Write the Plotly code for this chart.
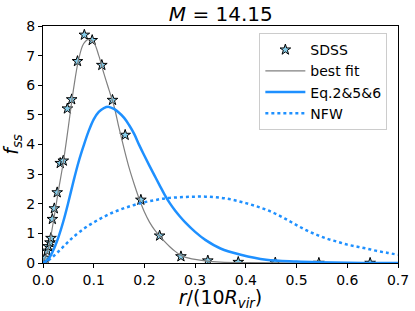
import plotly.graph_objects as go

# SDSS data points
sdss_r = [0.002, 0.004, 0.008, 0.0105, 0.0138, 0.0158, 0.0184, 0.0223, 0.028, 0.034, 0.040,
          0.048, 0.0566, 0.068, 0.0815, 0.097, 0.116, 0.137, 0.162, 0.193, 0.230, 0.272,
          0.325, 0.385, 0.458, 0.544, 0.645]
sdss_f = [0.05, 0.17, 0.41, 0.56, 0.69, 0.84, 1.48, 1.84, 2.38, 3.37, 3.45,
          5.21, 5.52, 6.81, 7.70, 7.52, 6.68, 5.50, 4.32, 2.13, 0.92, 0.22,
          0.08, 0.03, 0.01, 0.0, 0.0]

# best fit curve
fit_r = [0.0, 0.01, 0.02, 0.03, 0.04, 0.05, 0.06, 0.07, 0.08, 0.09, 0.10, 0.11, 0.12, 0.13,
         0.14, 0.15, 0.16, 0.17, 0.18, 0.19, 0.20, 0.21, 0.22, 0.23, 0.24, 0.25, 0.26, 0.27,
         0.28, 0.30, 0.32, 0.35, 0.40, 0.50, 0.60, 0.70]
fit_f = [0.0, 0.45, 1.35, 2.4, 3.4, 4.6, 5.85, 6.85, 7.4, 7.55, 7.45, 7.0, 6.4, 5.85,
         5.3, 4.55, 3.85, 3.2, 2.65, 2.15, 1.72, 1.38, 1.12, 0.92, 0.72, 0.55, 0.4, 0.28,
         0.2, 0.12, 0.07, 0.03, 0.01, 0.0, 0.0, 0.0]

# Eq.2&5&6 model
eq_r = [0.0, 0.01, 0.02, 0.03, 0.04, 0.05, 0.06, 0.07, 0.08, 0.09, 0.10, 0.11, 0.12, 0.13,
        0.14, 0.15, 0.16, 0.17, 0.18, 0.19, 0.20, 0.21, 0.22, 0.23, 0.24, 0.25, 0.26, 0.27,
        0.28, 0.30, 0.32, 0.35, 0.39, 0.44, 0.50, 0.60, 0.70]
eq_f = [0.0, 0.12, 0.42, 0.85, 1.4, 2.05, 2.75, 3.4, 3.95, 4.45, 4.85, 5.1, 5.23, 5.27,
        5.2, 5.07, 4.9, 4.65, 4.35, 3.97, 3.62, 3.28, 2.95, 2.62, 2.3, 2.02, 1.78, 1.57,
        1.38, 1.05, 0.78, 0.49, 0.28, 0.11, 0.05, 0.01, 0.0]

# NFW model
nfw_r = [0.0, 0.01, 0.02, 0.03, 0.04, 0.05, 0.06, 0.08, 0.10, 0.12, 0.14, 0.16, 0.18, 0.20,
         0.22, 0.24, 0.26, 0.28, 0.30, 0.32, 0.34, 0.36, 0.38, 0.40, 0.42, 0.44, 0.46, 0.48,
         0.50, 0.52, 0.54, 0.56, 0.58, 0.60, 0.62, 0.64, 0.66, 0.68, 0.70]
nfw_f = [0.0, 0.08, 0.22, 0.38, 0.55, 0.72, 0.88, 1.15, 1.37, 1.56, 1.72, 1.85, 1.96, 2.05,
         2.12, 2.18, 2.21, 2.23, 2.24, 2.24, 2.22, 2.18, 2.11, 2.02, 1.92, 1.8, 1.65, 1.47,
         1.28, 1.1, 0.95, 0.82, 0.72, 0.62, 0.55, 0.48, 0.4, 0.34, 0.28]

x_ticks = [0.0, 0.1, 0.2, 0.3, 0.4, 0.5, 0.6, 0.7]
y_ticks = [0, 1, 2, 3, 4, 5, 6, 7, 8]

BLUE = "#1E90FF"
FONT = "DejaVu Sans"

fig = go.Figure()
fig.add_trace(go.Scatter(x=sdss_r, y=sdss_f, mode="markers", name="SDSS",
                         marker=dict(symbol="star", size=8, color="#87CEEB",
                                     line=dict(color="black", width=1))))
fig.add_trace(go.Scatter(x=fit_r, y=fit_f, mode="lines", name="best fit",
                         line=dict(color="gray", width=1.2, shape="spline")))
fig.add_trace(go.Scatter(x=eq_r, y=eq_f, mode="lines", name="Eq.2&5&6",
                         line=dict(color=BLUE, width=2.5, shape="spline")))
fig.add_trace(go.Scatter(x=nfw_r, y=nfw_f, mode="lines", name="NFW",
                         line=dict(color=BLUE, width=2.5, dash="dot", shape="spline")))

axis_common = dict(showgrid=False, zeroline=False, showline=True, linecolor="black",
                   linewidth=1, mirror=True, ticks="outside", ticklen=4, tickwidth=1,
                   tickcolor="black", automargin=False,
                   tickfont=dict(family=FONT, size=14, color="black"))

fig.update_xaxes(range=[0, 0.7], tickvals=x_ticks, tickformat=".1f",
                 title=dict(text="<i>r</i>/(10<i>R</i><sub><i>vir</i></sub>)",
                            font=dict(family=FONT, size=19, color="black"), standoff=2),
                 **axis_common)
fig.update_yaxes(range=[0, 8], tickvals=y_ticks,
                 title=dict(text="<i>f</i><sub><i>ss</i></sub>",
                            font=dict(family=FONT, size=19, color="black"), standoff=4),
                 **axis_common)

fig.update_layout(
    width=415, height=311,
    margin=dict(l=43, r=17, t=26, b=48),
    paper_bgcolor="white", plot_bgcolor="white",
    title=dict(text="<i>M</i> = 14.15", x=0.532, xanchor="center", y=0.955, yanchor="middle",
               font=dict(family=FONT, size=20, color="black")),
    legend=dict(x=0.97, y=0.97, xanchor="right", yanchor="top",
                bgcolor="white", bordercolor="#cccccc", borderwidth=1,
                font=dict(family=FONT, size=14, color="black"),
                itemwidth=40),
    showlegend=True,
)

fig.write_html("out.html", config={"displayModeBar": False},
               post_script="document.body.style.margin='0';document.body.style.overflow='hidden';")
